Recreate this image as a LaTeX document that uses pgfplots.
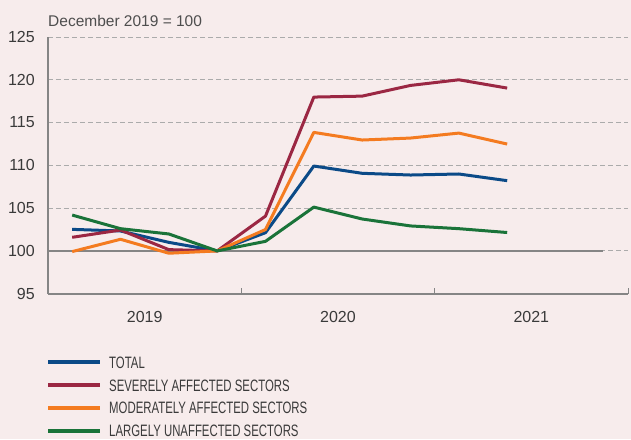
\documentclass[border=0pt]{standalone}
\usepackage{fontspec}
\setmainfont{Liberation Sans}
\newfontfamily\narrowfont[FakeStretch=0.69]{Liberation Sans}
\usepackage{pgfplots}
\pgfplotsset{compat=1.18}
\usepackage{pgfplotstable}
\definecolor{bg}{HTML}{F7ECEC}
\definecolor{cTotal}{HTML}{0B4A87}
\definecolor{cSevere}{HTML}{9B2743}
\definecolor{cModerate}{HTML}{F47B20}
\definecolor{cLargely}{HTML}{1A7339}
\definecolor{txt}{HTML}{3A3A3A}
\definecolor{gridc}{HTML}{ABABAB}
\definecolor{axisc}{HTML}{858585}

\pgfplotstableread{
x     total   severe  moderate largely
0.5   102.52  101.59  99.92    104.19
1.5   102.33  102.44  101.36   102.60
2.5   101.00  100.15  99.73    101.98
3.5   100.00  100.00  100.00   100.00
4.5   102.13  104.07  102.50   101.12
5.5   109.92  117.98  113.85   105.12
6.5   109.07  118.09  112.96   103.73
7.5   108.87  119.34  113.19   102.92
8.5   108.99  120.00  113.77   102.60
9.5   108.21  119.03  112.49   102.15
}\datatable

\begin{document}
\begin{tikzpicture}
\fill[bg] (-48pt,-145.3pt) rectangle (583pt,293.7pt);
\useasboundingbox (-48pt,-145.3pt) rectangle (583pt,293.7pt);
\begin{axis}[
  at={(0pt,0pt)}, anchor=south west,
  scale only axis, width=580pt, height=256.7pt,
  xmin=0, xmax=12, ymin=95, ymax=125,
  clip=false,
  axis x line*=bottom, axis y line*=left,
  x axis line style={draw=axisc, line width=2pt},
  y axis line style={draw=axisc, line width=1.2pt},
  xtick={4,8,12}, xticklabels={},
  tick align=inside,
  major tick length=6pt,
  xtick style={draw=axisc, line width=1pt},
  extra x ticks={2,6,10},
  extra x tick labels={2019,2020,2021},
  extra x tick style={major tick length=0pt},
  ytick={95,100,...,125},
  ytick style={draw=none},
  ymajorgrids,
  major grid style={dash pattern=on 5pt off 3pt, draw=gridc, line width=0.9pt},
  tick label style={font=\fontsize{16}{18}\selectfont, text=txt},
  /pgf/number format/assume math mode=true,
  yticklabel style={xshift=-9.7pt},
  xticklabel style={yshift=-14pt},
  legend style={at={(0,0)}, anchor=north west, yshift=-62.7pt, xshift=-2pt,
    draw=none, fill=none, inner sep=0pt, row sep=11pt, column sep=7pt,
    font=\narrowfont\fontsize{16.5}{18}\selectfont, text=txt,
    nodes={inner sep=0pt, text height=11.7pt, text depth=0pt}},
  legend cell align=left,
  legend image code/.code={\draw[#1, line width=4pt, line cap=butt] (0pt,0pt) -- (52pt,0pt);},
  every axis plot/.append style={line width=3pt, line join=round},
]
\addplot[draw=axisc, line width=1.3pt, forget plot] coordinates {(0,100) (11.48,100)};
\addplot[cTotal] table[x=x, y=total] {\datatable};
\addlegendentry{TOTAL}
\addplot[cSevere] table[x=x, y=severe] {\datatable};
\addlegendentry{SEVERELY AFFECTED SECTORS}
\addplot[cModerate] table[x=x, y=moderate] {\datatable};
\addlegendentry{MODERATELY AFFECTED SECTORS}
\addplot[cLargely] table[x=x, y=largely] {\datatable};
\addlegendentry{LARGELY UNAFFECTED SECTORS}
\node[anchor=base west, inner sep=0pt, font=\fontsize{15.5}{18}\selectfont, text=txt!90!white]
  at (rel axis cs:0,1) [yshift=11pt] {December 2019 = 100};
\end{axis}
\end{tikzpicture}
\end{document}
